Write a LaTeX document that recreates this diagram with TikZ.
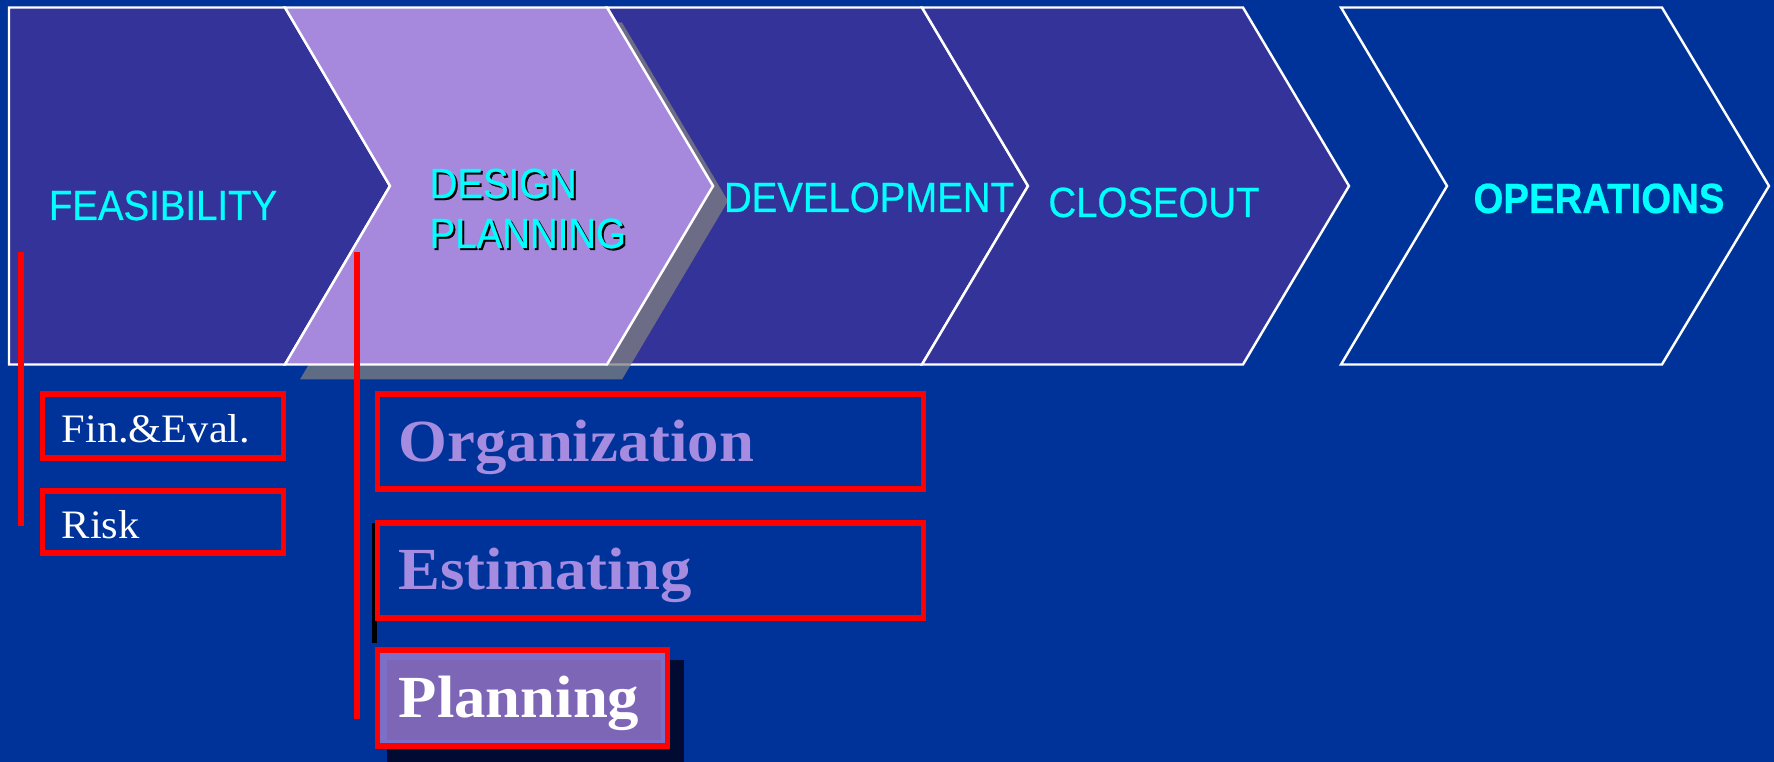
\documentclass[tikz,border=0pt]{standalone}
\usepackage{fontspec}
\setmainfont{Liberation Serif}
\newfontfamily\headfont[FakeStretch=0.91,FakeBold=0.6]{Liberation Sans}
\newfontfamily\itemfont[FakeStretch=1.05]{Liberation Serif}
\usetikzlibrary{positioning,calc}
\definecolor{slideBlue}{HTML}{003399}
\definecolor{phaseFill}{HTML}{333399}
\definecolor{phaseLav}{HTML}{A688DD}
\definecolor{titleCyan}{HTML}{00FFFF}
\definecolor{itemLav}{HTML}{A68CE0}
\definecolor{planFill}{HTML}{7B6FC8}
\definecolor{planInner}{HTML}{7E66B6}
\definecolor{shadowNavy}{HTML}{000A33}
\tikzset{
  phase/.style={draw=white, line width=0.7pt, fill=phaseFill},
  phaseon/.style={draw=white, line width=0.7pt, fill=phaseLav},
  phaseshadow/.style={fill=gray, fill opacity=0.75},
  phasetitle/.style={font=\headfont\fontsize{12}{14.2}\selectfont, text=titleCyan,
        inner sep=0pt, anchor=base},
  itembox/.style={draw=red, line width=1.5pt, anchor=north west, inner sep=0pt},
  smallitem/.style={font=\itemfont\fontsize{11.5}{13}\selectfont, text=white,
        inner sep=0pt, anchor=base west},
  bigitem/.style={font=\itemfont\bfseries\fontsize{17}{19}\selectfont, text=itemLav,
        inner sep=0pt, anchor=base west},
  bracket/.style={draw=red, line width=1.6pt}
}
\begin{document}
\begin{tikzpicture}
\useasboundingbox (0,0) rectangle (17.74,7.62);
\fill[slideBlue] (0,0) rectangle (17.74,7.62);

% phase chevrons
\path[phase] (0.09,7.545) -- (2.85,7.545) -- (3.90,5.76) -- (2.85,3.975)
      -- (0.09,3.975) -- cycle;
\path[phase] (6.07,7.545) -- (9.22,7.545) -- (10.28,5.76) -- (9.22,3.975)
      -- (6.07,3.975) -- (7.13,5.76) -- cycle;
\path[phase] (9.22,7.545) -- (12.43,7.545) -- (13.49,5.76) -- (12.43,3.975)
      -- (9.22,3.975) -- (10.28,5.76) -- cycle;
\path[phase, fill=none] (13.41,7.545) -- (16.62,7.545) -- (17.69,5.76) -- (16.62,3.975)
      -- (13.41,3.975) -- (14.47,5.76) -- cycle;
\path[phaseshadow] (3.00,7.395) -- (6.22,7.395) -- (7.28,5.61) -- (6.22,3.825)
      -- (3.00,3.825) -- (4.05,5.61) -- cycle;
\path[phaseon] (2.85,7.545) -- (6.07,7.545) -- (7.13,5.76) -- (6.07,3.975)
      -- (2.85,3.975) -- (3.90,5.76) -- cycle;

% phase titles
\node[phasetitle] (feas)  at (1.63,5.42)  {FEASIBILITY};
\node[phasetitle, text=black, align=left, anchor=base west] at (4.31,5.12) {DESIGN\\PLANNING};
\node[phasetitle, align=left, anchor=base west] (design) at (4.29,5.14) {DESIGN\\PLANNING};
\node[phasetitle] (devel) at (8.69,5.50)  {DEVELOPMENT};
\node[phasetitle] (close) at (11.54,5.45) {CLOSEOUT};
\node[phasetitle, font=\headfont\bfseries\fontsize{12}{14.2}\selectfont] (oper) at (15.99,5.49) {OPERATIONS};

% feasibility items
\node[itembox, minimum width=2.41cm, minimum height=0.64cm] (finbox)  at (0.395,3.705) {};
\node[itembox, minimum width=2.41cm, minimum height=0.62cm] (riskbox) at (0.395,2.735) {};
\node[smallitem] (fin)  at (0.61,3.19) {Fin.\&Eval.};
\node[smallitem] (risk) at (0.61,2.23) {Risk};

% design planning items
\fill[black] (3.72,2.39) rectangle (3.77,1.19);
\fill[shadowNavy] (3.87,1.02) rectangle (6.84,0);
\node[itembox, minimum width=5.46cm, minimum height=0.95cm] (orgbox) at (3.745,3.705) {};
\node[itembox, minimum width=5.46cm, minimum height=0.95cm] (estbox) at (3.745,2.415) {};
\node[itembox, fill=planFill, minimum width=2.90cm, minimum height=0.96cm] (planbox) at (3.745,1.145) {};
\fill[planInner] (3.87,1.02) rectangle (6.61,0.22);
\node[bigitem] (org)  at (3.98,3.00) {Organization};
\node[bigitem] (est)  at (3.98,1.72) {Estimating};
\node[bigitem, text=white] (plan) at (3.98,0.44) {Planning};

% brackets
\coordinate (feastop) at (0.21,5.10);
\coordinate (feasend) at (0.21,2.36);
\coordinate (dptop)   at (3.57,5.10);
\coordinate (dpend)   at (3.57,0.43);
\draw[bracket] (feastop) -- (feasend);
\draw[bracket] (dptop) -- (dpend);
\end{tikzpicture}
\end{document}
